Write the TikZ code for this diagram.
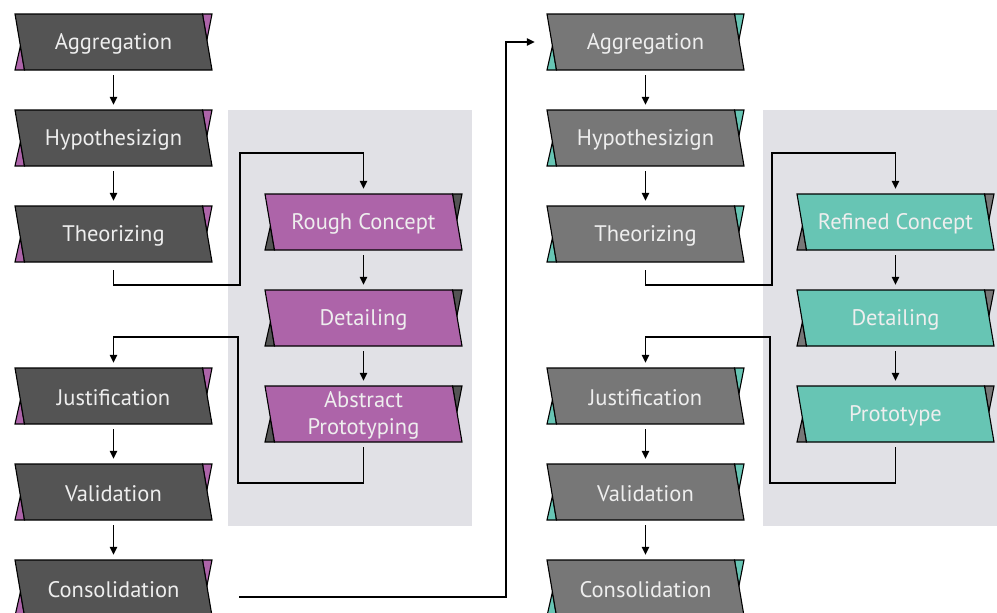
\documentclass[tikz,border=0pt]{standalone}
\usepackage{fontspec}
\setmainfont{PT Sans}
\usetikzlibrary{arrows.meta}

\definecolor{darkbox}{HTML}{545454}
\definecolor{greybox}{HTML}{777777}
\definecolor{plum}{HTML}{AD64A9}
\definecolor{mint}{HTML}{67C5B4}
\definecolor{panel}{HTML}{E1E1E6}
\definecolor{labeltext}{HTML}{EEEEEE}

\tikzset{
  outline/.style={draw=black, line width=1.1pt, line join=miter},
  stagelabel/.style={rectangle, minimum width=197pt, minimum height=56pt,
    inner sep=0pt, align=center, text=labeltext,
    font=\fontsize{22.5}{27}\selectfont},
  arr/.style={draw=black, line width=1.2pt,
    -{Triangle[length=8pt,width=7.5pt]}, shorten <=5pt, shorten >=5pt},
  backpanel/.style={fill=panel, draw=none}
}

% slanted stage box with two small corner tabs
% #1 name, #2 x, #3 y, #4 body colour, #5 tab colour, #6 label
\newcommand\stagebox[6]{%
  \begin{scope}[shift={(#2,#3)}]
    \filldraw[fill=#5, outline] (-98.5,28) -- (-89,28) -- (-93.1,4) -- cycle;
    \filldraw[fill=#5, outline] (89,-28) -- (98.5,-28) -- (93.4,-2) -- cycle;
    \filldraw[fill=#4, outline] (-98.5,-28) -- (89,-28) -- (98.5,28) -- (-89,28) -- cycle;
  \end{scope}
  \node[stagelabel] (#1) at (#2,#3) {};
  \node[stagelabel, minimum height=0pt] at ([yshift=-1.5pt]#1.center) {#6};
}

\begin{document}
\begin{tikzpicture}[x=1pt, y=-1pt]
  \useasboundingbox (0,0) rectangle (997,613);

  % grey panels behind the inner loops
  \fill[backpanel] (228,110) rectangle (472,526);
  \fill[backpanel] (763,110) rectangle (997,526);

  % first pass
  \stagebox{la}{113.5}{42}{darkbox}{plum}{Aggregation}
  \stagebox{lh}{113.5}{138}{darkbox}{plum}{Hypothesizign}
  \stagebox{lt}{113.5}{234}{darkbox}{plum}{Theorizing}
  \stagebox{lj}{113.5}{396}{darkbox}{plum}{Justification}
  \stagebox{lv}{113.5}{492}{darkbox}{plum}{Validation}
  \stagebox{lc}{113.5}{588}{darkbox}{plum}{Consolidation}

  \stagebox{pr}{363.5}{222}{plum}{darkbox}{Rough Concept}
  \stagebox{pd}{363.5}{318}{plum}{darkbox}{Detailing}
  \stagebox{pa}{363.5}{414}{plum}{darkbox}{Abstract\\Prototyping}

  % second pass
  \stagebox{ra}{645.5}{42}{greybox}{mint}{Aggregation}
  \stagebox{rh}{645.5}{138}{greybox}{mint}{Hypothesizign}
  \stagebox{rt}{645.5}{234}{greybox}{mint}{Theorizing}
  \stagebox{rj}{645.5}{396}{greybox}{mint}{Justification}
  \stagebox{rv}{645.5}{492}{greybox}{mint}{Validation}
  \stagebox{rc}{645.5}{588}{greybox}{mint}{Consolidation}

  \stagebox{mr}{895.5}{222}{mint}{greybox}{Refined Concept}
  \stagebox{md}{895.5}{318}{mint}{greybox}{Detailing}
  \stagebox{mp}{895.5}{414}{mint}{greybox}{Prototype}

  % bends of the elbow connectors
  \coordinate (lb1) at (240,285);
  \coordinate (lb2) at (240,153);
  \coordinate (lb3) at (238,483);
  \coordinate (lb4) at (238,337);
  \coordinate (cross) at (506,597);
  \coordinate (rb1) at (772,285);
  \coordinate (rb2) at (772,153);
  \coordinate (rb3) at (770,483);
  \coordinate (rb4) at (770,337);

  % first pass connectors
  \draw[arr] (la) -- (lh);
  \draw[arr] (lh) -- (lt);
  \draw[arr, shorten <=8pt] (lt.south) |- (lb1) -- (lb2) -| (pr.north);
  \draw[arr] (pr) -- (pd);
  \draw[arr] (pd) -- (pa);
  \draw[arr] (pa.south) |- (lb3) -- (lb4) -| (lj.north);
  \draw[arr] (lj) -- (lv);
  \draw[arr] (lv) -- (lc);
  \draw[arr, shorten <=27pt, shorten >=12pt] ([yshift=-9pt]lc.east) -- (cross) |- (ra.west);

  % second pass connectors
  \draw[arr] (ra) -- (rh);
  \draw[arr] (rh) -- (rt);
  \draw[arr, shorten <=8pt] (rt.south) |- (rb1) -- (rb2) -| (mr.north);
  \draw[arr] (mr) -- (md);
  \draw[arr] (md) -- (mp);
  \draw[arr] (mp.south) |- (rb3) -- (rb4) -| (rj.north);
  \draw[arr] (rj) -- (rv);
  \draw[arr] (rv) -- (rc);
\end{tikzpicture}
\end{document}
